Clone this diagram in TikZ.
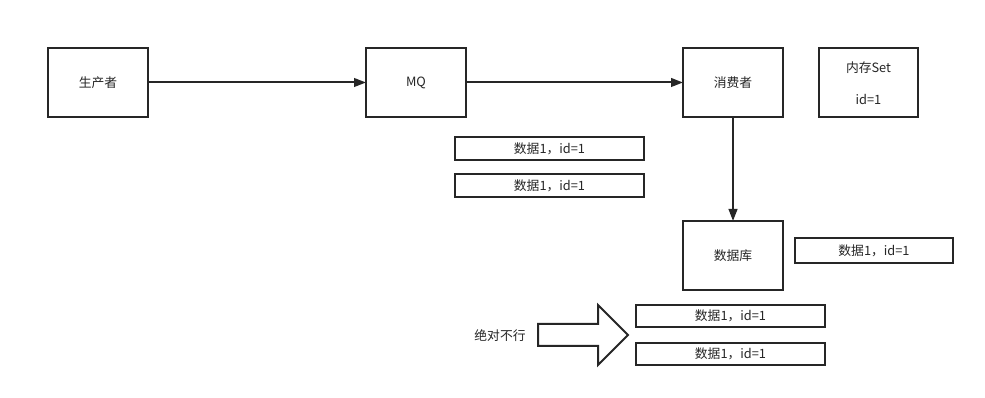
\documentclass[tikz,border=0pt]{standalone}
\usepackage{fontspec}
\setmainfont{Noto Sans CJK SC}
\usetikzlibrary{arrows.meta}
\begin{document}
\begin{tikzpicture}[x=0.75pt,y=-0.75pt,
  box/.style={draw=black!85,line width=1.5pt,inner sep=0pt},
  lbl/.style={font=\fontsize{9.6}{11}\selectfont,text=black!85},
  conn/.style={draw=black!85,line width=1.5pt,-{Triangle[length=9pt,width=6.5pt]}}]
\useasboundingbox (0,0) rectangle (985,398);
\fill[white] (0,0) rectangle (985,398);
% main boxes
\draw[box] (48,48) rectangle (148,117);
\node[lbl] (prod) at (98,82.5) {生产者};
\coordinate (prodE) at (148,82.5);
\draw[box] (366,48) rectangle (466,117);
\node[lbl] (mq) at (416,82.5) {MQ};
\coordinate (mqW) at (366,82.5);
\coordinate (mqE) at (466,82.5);
\draw[box] (683,48) rectangle (783,117);
\node[lbl] (cons) at (733,82.5) {消费者};
\coordinate (consW) at (683,82.5);
\coordinate (consS) at (733,117);
\draw[box] (819,48) rectangle (918,117);
\node[lbl] (set1) at (868.5,68) {内存Set};
\node[lbl] (set2) at (868.5,99) {id=1};
\draw[box] (683,221) rectangle (783,290);
\node[lbl] (db) at (733,255.5) {数据库};
\coordinate (dbN) at (733,221);
% data boxes
\draw[box] (455,137) rectangle (644,160);
\node[lbl] (d1) at (549.5,148.5) {数据1，id=1};
\draw[box] (455,174) rectangle (644,197);
\node[lbl] (d2) at (549.5,185.5) {数据1，id=1};
\draw[box] (795,238) rectangle (953,263);
\node[lbl] (d3) at (874,250.5) {数据1，id=1};
\draw[box] (636,305) rectangle (825,327);
\node[lbl] (d4) at (730.5,316) {数据1，id=1};
\draw[box] (636,343) rectangle (825,365);
\node[lbl] (d5) at (730.5,354) {数据1，id=1};
% connectors
\draw[conn] (prodE) -- (mqW);
\draw[conn] (mqE) -- (consW);
\draw[conn] (consS) -- (dbN);
% hollow arrow
\draw[draw=black!85,line width=1.5pt,line join=miter,fill=white]
  (538,324) -- (598,324) -- (598,305) -- (628,335) -- (598,365) -- (598,346) -- (538,346) -- cycle;
\node[lbl] (no) at (500,336) {绝对不行};
\end{tikzpicture}
\end{document}
